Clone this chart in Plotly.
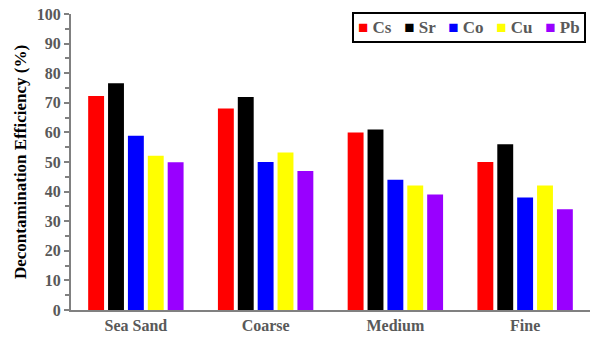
import plotly.graph_objects as go

categories = ["Sea Sand", "Coarse", "Medium", "Fine"]
series_names = ["Cs", "Sr", "Co", "Cu", "Pb"]
cs = [72.3, 68.1, 60.0, 50.0]
sr = [76.6, 72.0, 61.0, 56.0]
co = [58.9, 50.0, 44.0, 38.0]
cu = [52.1, 53.2, 42.1, 42.1]
pb = [49.9, 47.0, 39.0, 34.0]
colors = ["#ff0000", "#000000", "#0000ff", "#ffff00", "#9900ff"]

fig = go.Figure()
for name, vals, col in zip(series_names, [cs, sr, co, cu, pb], colors):
    fig.add_trace(go.Bar(x=categories, y=vals, name=name, showlegend=False,
                         marker=dict(color=col, line=dict(width=0))))

font_family = "Liberation Serif, Times New Roman, serif"

# Legend drawn as a single bordered text annotation (compact spacing like the original)
legend_text = "   ".join(
    f"<span style='color:{c}'>■</span> {n}" for n, c in zip(series_names, colors)
)
fig.add_annotation(
    xref="paper", yref="paper", x=0.992, y=1.007, xanchor="right", yanchor="top",
    text=legend_text, showarrow=False,
    font=dict(family=font_family, size=17, color="#595959", weight="bold"),
    bordercolor="black", borderwidth=2, borderpad=4, bgcolor="white",
)

fig.update_layout(
    width=590, height=338,
    margin=dict(l=71, r=0, t=14, b=28),
    plot_bgcolor="white", paper_bgcolor="white",
    barmode="group", bargap=0.234, bargroupgap=0.2,
    showlegend=False,
    font=dict(family=font_family),
)
fig.update_xaxes(showline=True, linecolor="#808080", linewidth=2, ticks="",
                 tickfont=dict(family=font_family, size=16, color="#595959", weight="bold"),
                 showgrid=False)
fig.update_yaxes(range=[0, 100], dtick=10, showline=True, linecolor="#808080", linewidth=2,
                 ticks="outside", ticklen=5, tickcolor="#808080", tickwidth=1.5,
                 minor=dict(dtick=5, ticks="outside", ticklen=4, tickcolor="#808080"),
                 showgrid=False, zeroline=False,
                 tickfont=dict(family=font_family, size=16, color="#595959", weight="bold"),
                 title=dict(text="Decontamination Efficiency (%)", standoff=6,
                            font=dict(family=font_family, size=17, color="black", weight="bold")))
fig.write_html("out.html", config={"displayModeBar": False},
               post_script="document.body.style.margin='0';")
